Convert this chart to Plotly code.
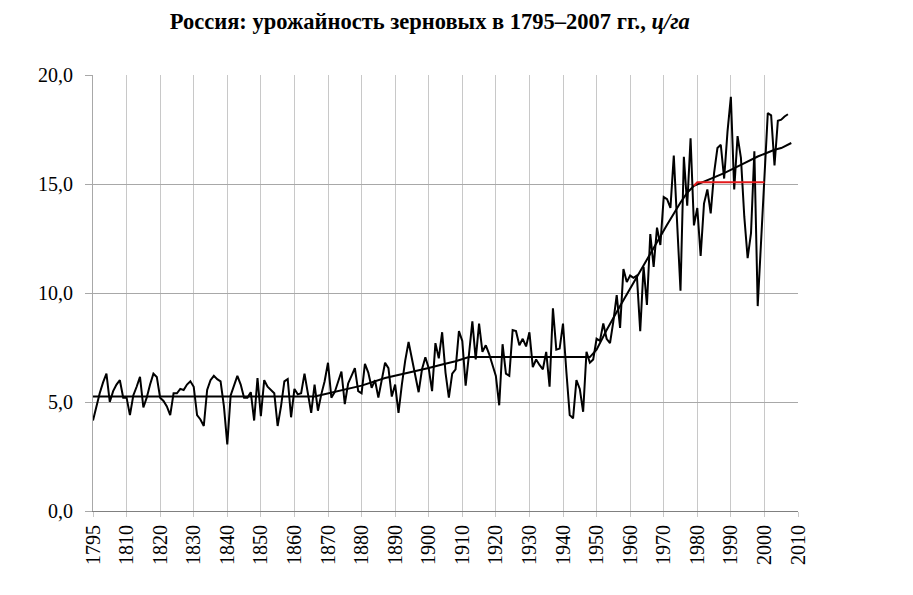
import plotly.graph_objects as go

# ---- data -------------------------------------------------------------
years = [1795] + list(range(1801, 2008))

yield_vals = [
    4.15, 4.8, 5.4, 5.9, 6.3, 5.0, 5.5, 5.8, 6.0, 5.2,
    5.2, 4.4, 5.3, 5.7, 6.15, 4.75, 5.2, 5.8, 6.3, 6.15,
    5.2, 5.05, 4.8, 4.4, 5.4, 5.4, 5.6, 5.55, 5.8, 5.95,
    5.7, 4.4, 4.2, 3.9, 5.55, 6.0, 6.2, 6.05, 5.95, 4.8,
    3.05, 5.3, 5.8, 6.2, 5.8, 5.2, 5.2, 5.45, 4.15, 6.1,
    4.35, 6.0, 5.7, 5.55, 5.4, 3.9, 4.8, 5.95, 6.05, 4.3,
    5.6, 5.35, 5.4, 6.3, 5.4, 4.5, 5.8, 4.6, 5.35, 5.95,
    6.8, 5.2, 5.45, 5.9, 6.4, 4.9, 5.85, 6.2, 6.55, 5.5,
    5.4, 6.75, 6.35, 5.65, 6.0, 5.2, 6.0, 6.8, 6.55, 5.25,
    5.8, 4.5, 5.8, 6.9, 7.75, 6.95, 6.2, 5.45, 6.5, 7.05,
    6.55, 5.5, 7.7, 7.0, 8.2, 6.35, 5.2, 6.3, 6.5, 8.25,
    7.8, 5.75, 7.2, 8.7, 6.95, 8.6, 7.3, 7.6, 7.2, 6.7,
    6.2, 4.85, 7.65, 6.3, 6.2, 8.3, 8.25, 7.6, 7.9, 7.55,
    8.2, 6.6, 6.95, 6.7, 6.5, 7.3, 5.7, 9.3, 7.4, 7.45,
    8.6, 6.4, 4.4, 4.25, 6.0, 5.6, 4.55, 7.3, 6.8, 6.95,
    7.9, 7.8, 8.6, 7.9, 7.7, 8.7, 9.9, 8.4, 11.1, 10.5,
    10.8, 10.7, 10.8, 8.25, 11.2, 9.45, 12.7, 11.2, 13.0, 12.2,
    14.4, 14.3, 13.9, 16.3, 13.0, 10.1, 16.25, 14.0, 17.1, 13.1,
    13.9, 11.7, 14.1, 14.75, 13.65, 15.5, 16.65, 16.8, 15.25, 17.4,
    19.0, 14.75, 17.2, 16.2, 13.5, 11.6, 12.75, 16.5, 9.4, 12.4,
    15.3, 18.25, 18.15, 15.85, 17.9, 17.95, 18.1, 18.2,
]

trend_years = [1795, 1866, 1867, 1871, 1880, 1887, 1893, 1900, 1904, 1908,
               1912, 1948, 1950, 1953, 1957, 1961, 1965, 1968, 1971, 1975,
               1977, 1979, 1981, 1983, 1988, 1993, 1998, 2003, 2005, 2008]
trend_vals = [5.25, 5.25, 5.29, 5.44, 5.75, 6.1, 6.3, 6.56, 6.72, 6.87,
              7.06, 7.06, 7.4, 8.3, 9.4, 10.46, 11.53, 12.37, 13.13, 14.15,
              14.6, 14.92, 15.05, 15.15, 15.5, 15.88, 16.26, 16.57, 16.65, 16.88]

red_years = [1979, 1980, 2000]
red_vals = [14.92, 15.08, 15.08]

x_tick_labels = ["1795", "1810", "1820", "1830", "1840", "1850", "1860",
                 "1870", "1880", "1890", "1900", "1910", "1920", "1930",
                 "1940", "1950", "1960", "1970", "1980", "1990", "2000", "2010"]
y_tick_vals = [0, 5, 10, 15, 20]
y_tick_labels = ["0,0", "5,0", "10,0", "15,0", "20,0"]

TITLE = "<b>Россия: урожайность зерновых в 1795–2007 гг., <i>ц/га</i></b>"


# category position on the axis: 1795 is the first slot, then 1801, 1802, ...
def pos(year):
    return 0 if year == 1795 else year - 1800


FONT = "Liberation Serif, Times New Roman, serif"

fig = go.Figure()
fig.add_trace(go.Scatter(x=[pos(y) for y in years], y=yield_vals, mode="lines",
                         line=dict(color="black", width=2), hoverinfo="skip"))
fig.add_trace(go.Scatter(x=[pos(y) for y in trend_years], y=trend_vals, mode="lines",
                         line=dict(color="black", width=2), hoverinfo="skip"))
fig.add_trace(go.Scatter(x=[pos(y) for y in red_years], y=red_vals, mode="lines",
                         line=dict(color="#e31a1c", width=2), hoverinfo="skip"))

fig.update_layout(
    width=913, height=595,
    margin=dict(l=85, r=123, t=67, b=92, autoexpand=False),
    paper_bgcolor="white", plot_bgcolor="white",
    showlegend=False,
    font=dict(family=FONT, size=20, color="black"),
    title=dict(text=TITLE, x=0.462, xanchor="center", xref="container",
               y=0.978, yanchor="middle", yref="container",
               font=dict(family=FONT, size=22.5, color="black")),
    xaxis=dict(range=[0, 210], tickmode="array",
               tickvals=[pos(int(t)) for t in x_tick_labels],
               ticktext=x_tick_labels, tickangle=-90, automargin=False,
               showgrid=True, gridcolor="#c8c8c8", gridwidth=1,
               zeroline=False, showline=True, linecolor="#808080", linewidth=1,
               ticks="outside", ticklen=5, tickcolor="#c8c8c8",
               tickfont=dict(family=FONT, size=20, color="black")),
    yaxis=dict(range=[0, 20], tickmode="array", tickvals=y_tick_vals,
               ticktext=y_tick_labels, automargin=False,
               showgrid=True, gridcolor="#a8a8a8", gridwidth=1,
               zeroline=False, showline=True, linecolor="#a8a8a8", linewidth=1,
               ticks="outside", ticklen=7, tickcolor="#a8a8a8",
               ticklabelstandoff=8,
               tickfont=dict(family=FONT, size=20, color="black")),
)

fig.write_html("out.html")
